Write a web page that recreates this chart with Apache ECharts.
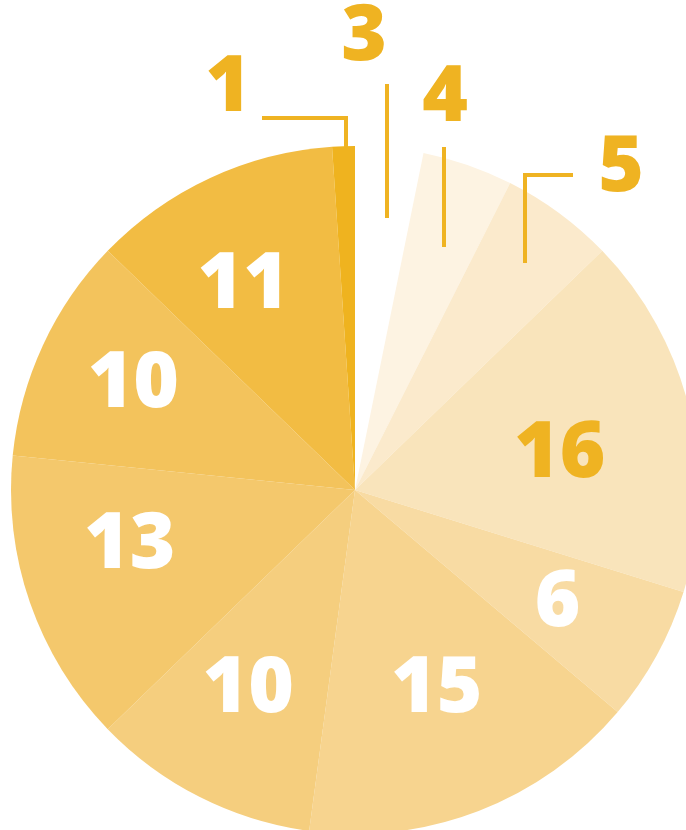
<!DOCTYPE html>
<html lang="en">
<head>
    <meta charset="UTF-8">
    <title>pie</title>
    <script src="https://cdn.jsdelivr.net/npm/echarts@6/dist/echarts.min.js"></script>
    <style>
        html, body { margin: 0; padding: 0; background: #fff; }
        #main { width: 686px; height: 830px; }
    </style>
</head>
<body>
<div id="main"></div>
<script>
// slices, clockwise from 12 o'clock
var names  = ['s1', 's2', 's3', 's4', 's5', 's6', 's7', 's8', 's9', 's10', 's11'];
var values = [3, 4, 5, 16, 6, 15, 10, 13, 10, 11, 1];
var colors = ['#ffffff', '#fdf3e2', '#fbeacc', '#f9e4bb', '#f8dba3', '#f7d48f', '#f5ce7e', '#f4c86c', '#f3c35c', '#f2bc43', '#efb31f'];

var gold = '#efb322';
var cx = 355, cy = 490, R = 344;

// which labels sit outside, with their leader lines (offsets from pie centre)
var leaders = {
    0:  { pts: [[32, -272], [32, -406]], text: [9, -452] },
    1:  { pts: [[89, -243], [89, -343]], text: [90, -391] },
    2:  { pts: [[170, -227], [170, -315], [218, -315]], text: [266, -321] },
    10: { pts: [[-9, -343], [-9, -372], [-93, -372]], text: [-127, -401] }
};
// small nudges for the inside labels
var nudge = {3: [-19, 18], 4: [1, 3], 5: [-1, -15], 6: [-3, -5], 7: [-8, -20], 8: [-13, -8], 9: [-15, 4]};

var total = values.reduce(function (a, b) { return a + b; }, 0);

function midAngle(i) {
    var s = 0;
    for (var k = 0; k < i; k++) s += values[k];
    return (s + values[i] / 2) / total * Math.PI * 2;
}

var data = values.map(function (v, i) {
    var out = !!leaders[i];
    return {
        name: names[i],
        value: v,
        itemStyle: { color: colors[i] },
        label: { color: (out || i === 3) ? gold : '#ffffff' }
    };
});

// leader lines drawn on top of the sectors
var lines = Object.keys(leaders).map(function (k) {
    return {
        type: 'polyline',
        z: 100,
        silent: true,
        shape: { points: leaders[k].pts.map(function (p) { return [cx + p[0], cy + p[1]]; }) },
        style: { stroke: gold, lineWidth: 4, fill: null, lineJoin: 'miter', lineCap: 'butt' }
    };
});

var myChart = echarts.init(document.getElementById('main'));
myChart.setOption({
    animation: false,
    graphic: lines,
    series: [{
        type: 'pie',
        center: [cx, cy],
        radius: [0, R],
        startAngle: 90,
        clockwise: true,
        avoidLabelOverlap: false,
        silent: true,
        itemStyle: { borderWidth: 0 },
        label: {
            show: true,
            position: 'inside',
            formatter: '{c}',
            fontFamily: 'Open Sans',
            fontWeight: 800,
            fontSize: 78
        },
        labelLine: { show: false },
        labelLayout: function (params) {
            var i = params.dataIndex;
            var l = leaders[i];
            if (l) {
                return {
                    x: cx + l.text[0],
                    y: cy + l.text[1],
                    align: 'center',
                    verticalAlign: 'middle'
                };
            }
            var a = midAngle(i);
            var n = nudge[i] || [0, 0];
            return {
                x: cx + 230 * Math.sin(a) + n[0],
                y: cy - 230 * Math.cos(a) + n[1],
                align: 'center',
                verticalAlign: 'middle'
            };
        },
        data: data
    }]
});
</script>
</body>
</html>
